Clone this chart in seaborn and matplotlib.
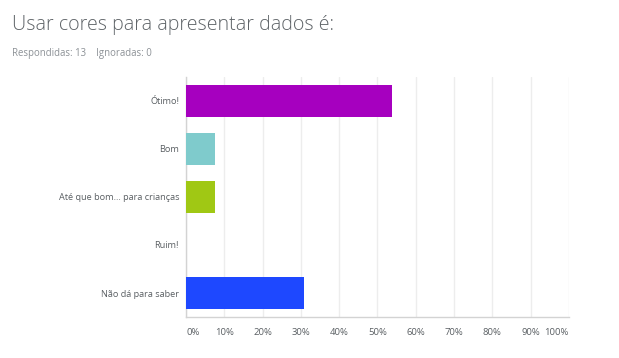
"""Survey result chart: Usar cores para apresentar dados"""

import matplotlib
matplotlib.use('Agg')
import matplotlib.pyplot as plt
import seaborn as sns
import pandas as pd

# Data
categories = ['Ótimo!', 'Bom', 'Até que bom... para crianças', 'Ruim!', 'Não dá para saber']
percentages = [53.85, 7.69, 7.69, 0.0, 30.77]
bar_colors = ['#A600BF', '#7FCBCC', '#A0C814', '#C0C0C0', '#1E48FF']
x_ticks = [0, 10, 20, 30, 40, 50, 60, 70, 80, 90, 100]
x_tick_labels = [f'{t}%' for t in x_ticks]

title = 'Usar cores para apresentar dados é:'
subtitle = 'Respondidas: 13    Ignoradas: 0'

sns.set_style('white')
plt.rcParams['font.family'] = ['Open Sans', 'DejaVu Sans']

df = pd.DataFrame({'category': categories, 'pct': percentages})

fig = plt.figure(figsize=(6.19, 3.58), dpi=100)
ax = fig.add_axes([0.3005, 0.1145, 0.6185, 0.6705])

sns.barplot(data=df, x='pct', y='category', hue='category', palette=bar_colors,
            legend=False, width=0.66, saturation=1, linewidth=0, ax=ax, zorder=3)

ax.set_xlim(0, 100)
ax.set_xticks(x_ticks)
ax.set_xticklabels(x_tick_labels)
ax.set_xlabel('')
ax.set_ylabel('')
ax.grid(axis='x', color='#EDEDED', linewidth=1, zorder=0)
ax.set_axisbelow(True)

for side in ['top', 'right']:
    ax.spines[side].set_visible(False)
for side in ['left', 'bottom']:
    ax.spines[side].set_color('#D3D3D3')
    ax.spines[side].set_linewidth(1)

ax.tick_params(axis='y', length=0, labelsize=6.6, colors='#5A5F63', pad=5)
ax.tick_params(axis='x', length=0, labelsize=6.8, colors='#5A5F63', pad=8)

# first and last x labels hug the axis ends
xlabels = ax.get_xticklabels()
xlabels[0].set_horizontalalignment('left')
xlabels[-1].set_horizontalalignment('right')

fig.text(0.019, 0.93, title, fontsize=14.1, color='#5F6468', va='center', ha='left',
         fontweight='light')
fig.text(0.019, 0.851, subtitle, fontsize=6.9, color='#8C9196', va='center', ha='left')

plt.savefig('out.png', dpi=100)
